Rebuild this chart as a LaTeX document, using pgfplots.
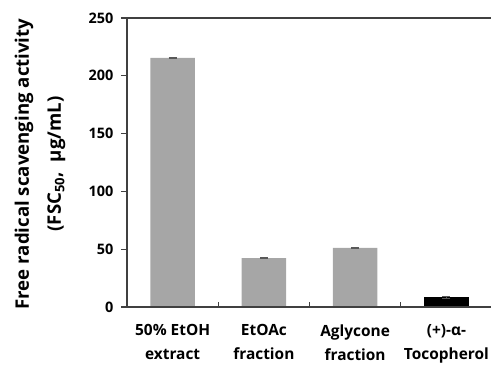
\documentclass[border=0pt]{standalone}
\usepackage{pgfplots}
\pgfplotsset{compat=1.18}
\usepackage{fontspec}
\setmainfont{Open Sans}
\definecolor{barg}{HTML}{A6A6A6}
\definecolor{axg}{HTML}{404040}
\begin{document}
\begin{tikzpicture}
\useasboundingbox (-127bp,-58bp) rectangle (364bp,307bp);
\begin{axis}[
  scale only axis, width=365bp, height=289bp,
  xmin=-0.5, xmax=3.5, ymin=0, ymax=250,
  axis line style={draw=none},
  ytick={0,50,100,150,200,250}, ytick pos=left, tick align=outside,
  major tick length=6bp,
  y tick style={draw=axg, line width=1.1bp},
  xtick={0,1,2,3}, xtick pos=bottom,
  x tick style={draw=none},
  xticklabels={50\% EtOH\\extract, EtOAc\\fraction, Aglycone\\fraction, (+)-α-\\Tocopherol},
  y tick label style={font=\bfseries\fontsize{14.5}{16}\selectfont, xshift=-4bp},
  x tick label style={align=center, font=\bfseries\fontsize{15.5}{24}\selectfont, yshift=-8bp},
  /pgf/number format/assume math mode=true,
  clip=false,
]
\addplot[ybar, bar shift=0pt, bar width=0.49, fill=barg, draw=none,
  error bars/.cd, y dir=both, y explicit,
  error bar style={draw=gray!70!black, line width=0.9bp},
  error mark options={rotate=90, mark size=4bp, draw=gray!70!black, line width=0.9bp}]
  coordinates {(0,215.4) +- (0,0.3) (1,42.2) +- (0,0.4) (2,51.2) +- (0,0.6)};
\addplot[ybar, bar shift=0pt, bar width=0.49, fill=black, draw=none,
  error bars/.cd, y dir=both, y explicit,
  error bar style={draw=gray!70!black, line width=0.9bp},
  error mark options={rotate=90, mark size=4bp, draw=gray!70!black, line width=0.9bp}]
  coordinates {(3,8.6) +- (0,0.8)};
\draw[axg, line width=1.3bp] (rel axis cs:1.01,1) -- (rel axis cs:0,1) -- (rel axis cs:0,0) -- (rel axis cs:1.01,0);
\draw[axg, line width=1.1bp] (axis cs:0.5,0) -- ([yshift=5bp]axis cs:0.5,0);
\draw[axg, line width=1.1bp] (axis cs:1.5,0) -- ([yshift=5bp]axis cs:1.5,0);
\draw[axg, line width=1.1bp] (axis cs:2.5,0) -- ([yshift=5bp]axis cs:2.5,0);
\end{axis}
\node[rotate=90, align=center, font=\bfseries\fontsize{18.7}{32}\selectfont] at (-87bp,143bp) {Free radical scavenging activity\\(FSC\textsubscript{50},\ \ µg/mL)};
\end{tikzpicture}
\end{document}
